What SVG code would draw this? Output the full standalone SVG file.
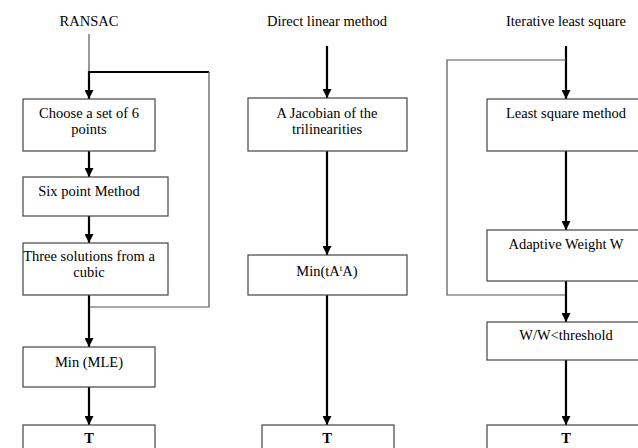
<svg xmlns="http://www.w3.org/2000/svg" width="638" height="448" viewBox="0 0 638 448">
<style>
text{font-family:"Liberation Serif","Times New Roman",serif;font-size:14.5px;fill:#000;text-anchor:middle}
.b{font-weight:bold}
rect{fill:#fff;stroke:#444;stroke-width:1.2}
.thick{stroke:#000;stroke-width:2.2;fill:none}
.thin{stroke:#555;stroke-width:1.2;fill:none}
</style>
<defs>
<marker id="ah" viewBox="0 0 10 10" refX="10" refY="5" markerWidth="9" markerHeight="9" markerUnits="userSpaceOnUse" orient="auto">
<path d="M0,0 L10,5 L0,10 z" fill="#000"/>
</marker>
</defs>
<g id="titles">
<text x="89" y="26">RANSAC</text>
<text x="327" y="26">Direct linear method</text>
<text x="566" y="26">Iterative least square</text>
</g>
<g id="connectors">
<line class="thin" x1="89" y1="34" x2="89" y2="72"/>
<polyline class="thick" points="209,72 89,72 89,99" marker-end="url(#ah)"/>
<polyline class="thin" points="209,72 209,307 89,307"/>
<line class="thick" x1="89" y1="151" x2="89" y2="177" marker-end="url(#ah)"/>
<line class="thick" x1="89" y1="216" x2="89" y2="243" marker-end="url(#ah)"/>
<line class="thick" x1="89" y1="295" x2="89" y2="347" marker-end="url(#ah)"/>
<line class="thick" x1="89" y1="387" x2="89" y2="425" marker-end="url(#ah)"/>
<line class="thick" x1="327" y1="46" x2="327" y2="98" marker-end="url(#ah)"/>
<line class="thick" x1="327" y1="151" x2="327" y2="255" marker-end="url(#ah)"/>
<line class="thick" x1="327" y1="295" x2="327" y2="425" marker-end="url(#ah)"/>
<line class="thick" x1="566" y1="46" x2="566" y2="99" marker-end="url(#ah)"/>
<polyline class="thin" points="566,60 447,60 447,295 566,295"/>
<line class="thick" x1="566" y1="151" x2="566" y2="230" marker-end="url(#ah)"/>
<line class="thick" x1="566" y1="281" x2="566" y2="322" marker-end="url(#ah)"/>
<line class="thick" x1="566" y1="360" x2="566" y2="425" marker-end="url(#ah)"/>
</g>
<g id="choose">
<rect x="23" y="99" width="132" height="52"/>
<text x="89" y="118">Choose a set of 6</text>
<text x="89" y="134">points</text>
</g>
<g id="sixpoint">
<rect x="23" y="177" width="145" height="39"/>
<text x="89" y="196">Six point Method</text>
</g>
<g id="three">
<rect x="23" y="243" width="145" height="52"/>
<text x="89" y="261">Three solutions from a</text>
<text x="89" y="277">cubic</text>
</g>
<g id="minmle">
<rect x="23" y="347" width="132" height="40"/>
<text x="89" y="367">Min (MLE)</text>
</g>
<g id="t1">
<rect x="23" y="425" width="132" height="40"/>
<text class="b" x="89" y="443">T</text>
</g>
<g id="jacobian">
<rect x="248" y="98" width="159" height="53"/>
<text x="327" y="118">A Jacobian of the</text>
<text x="327" y="134">trilinearities</text>
</g>
<g id="mintaa">
<rect x="248" y="255" width="159" height="40"/>
<text x="327" y="276">Min(tA<tspan font-size="9" dy="-5">t</tspan><tspan dy="5">A)</tspan></text>
</g>
<g id="t2">
<rect x="262" y="425" width="132" height="40"/>
<text class="b" x="327" y="443">T</text>
</g>
<g id="lsm">
<rect x="487" y="99" width="160" height="52"/>
<text x="566" y="118">Least square method</text>
</g>
<g id="adaptive">
<rect x="487" y="230" width="160" height="51"/>
<text x="566" y="249">Adaptive Weight W</text>
</g>
<g id="threshold">
<rect x="487" y="322" width="160" height="38"/>
<text x="566" y="340">W/W&lt;threshold</text>
</g>
<g id="t3">
<rect x="487" y="425" width="160" height="40"/>
<text class="b" x="566" y="443">T</text>
</g>
</svg>
